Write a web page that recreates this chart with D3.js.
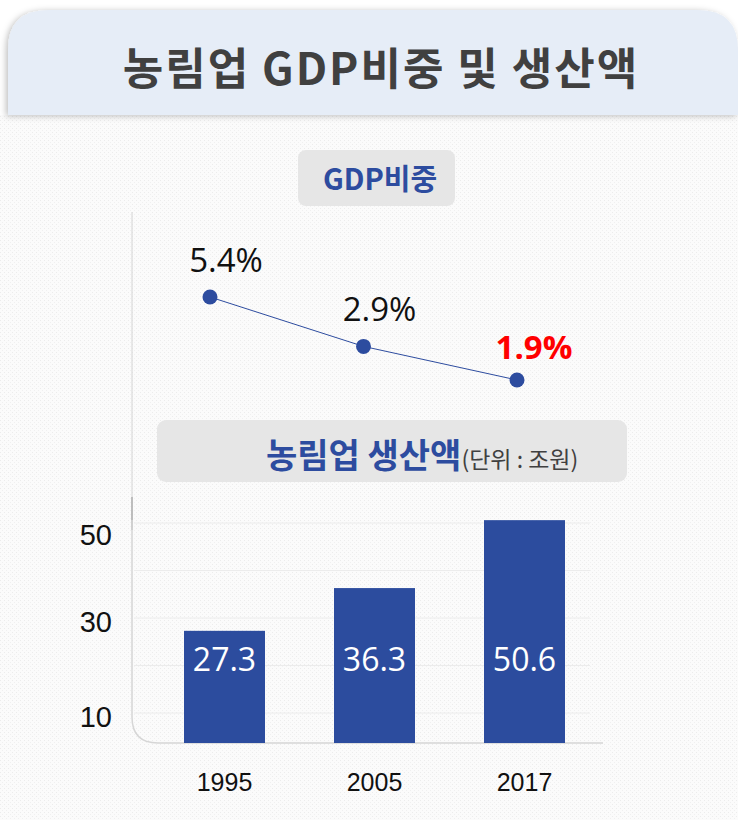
<!DOCTYPE html>
<html>
<head>
<meta charset="utf-8">
<script src="https://cdn.jsdelivr.net/npm/d3@7"></script>
<style>
  html, body { margin: 0; padding: 0; background: #fff; }
  svg { display: block; }
</style>
</head>
<body>
<div id="chart"></div>
<script>
// chart values
const years = ["1995", "2005", "2017"];
const gdpShare = [5.4, 2.9, 1.9];          // % of GDP
const production = [27.3, 36.3, 50.6];     // 조원
const yTicks = [10, 30, 50];

const W = 738, H = 820;
const KR = "'Noto Sans CJK KR', 'Noto Sans', sans-serif";

const svg = d3.select("#chart").append("svg")
    .attr("width", W)
    .attr("height", H);

const defs = svg.append("defs");

// light dotted texture for the body
const pat = defs.append("pattern")
    .attr("id", "dots")
    .attr("width", 4).attr("height", 4)
    .attr("patternUnits", "userSpaceOnUse");
pat.append("rect").attr("width", 4).attr("height", 4).attr("fill", "#fbfbfb");
pat.append("rect").attr("width", 1).attr("height", 1).attr("fill", "#ececec");
pat.append("rect").attr("x", 2).attr("y", 2).attr("width", 1).attr("height", 1).attr("fill", "#f0f0f0");

const shadow = defs.append("filter").attr("id", "shadow")
    .attr("x", "-5%").attr("y", "-10%").attr("width", "110%").attr("height", "130%");
shadow.append("feDropShadow")
    .attr("dx", -2).attr("dy", 1).attr("stdDeviation", 3)
    .attr("flood-color", "#000").attr("flood-opacity", 0.25);

svg.append("rect").attr("x", 0).attr("y", 115).attr("width", W).attr("height", H - 115)
    .attr("fill", "url(#dots)");

// header panel
svg.append("path")
    .attr("d", "M8,115 L8,50 Q8,10 48,10 L698,10 Q738,10 738,50 L738,115 Z")
    .attr("fill", "#e6edf7")
    .attr("filter", "url(#shadow)");

svg.append("text")
    .attr("x", 381).attr("y", 85)
    .attr("text-anchor", "middle")
    .attr("font-family", KR)
    .attr("font-weight", 700)
    .attr("font-size", 44)
    .attr("letter-spacing", 2)
    .attr("fill", "#404040")
    .text("농림업 GDP비중 및 생산액");

// ---- GDP share line ----
const xLine = d3.scalePoint().domain(years).range([210, 517]);
const yLine = d3.scaleLog().domain([1.9, 5.4]).range([380, 297]);

svg.append("rect")
    .attr("x", 298).attr("y", 150).attr("width", 157).attr("height", 56).attr("rx", 8)
    .attr("fill", "#e6e6e6");
svg.append("text")
    .attr("x", 380).attr("y", 190)
    .attr("text-anchor", "middle")
    .attr("font-family", KR).attr("font-weight", 700).attr("font-size", 29)
    .attr("fill", "#2d4c9f")
    .text("GDP비중");

// axis line on the left
svg.append("line")
    .attr("x1", 132).attr("x2", 132).attr("y1", 212).attr("y2", 530)
    .attr("stroke", "#d4d4d4").attr("stroke-width", 1);
svg.append("line")
    .attr("x1", 132).attr("x2", 132).attr("y1", 497).attr("y2", 530)
    .attr("stroke", "#bdbdbd").attr("stroke-width", 2);

const pts = years.map((y, i) => ({ year: y, v: gdpShare[i] }));

svg.append("path")
    .datum(pts)
    .attr("d", d3.line().x(d => xLine(d.year)).y(d => yLine(d.v)))
    .attr("fill", "none")
    .attr("stroke", "#2d4c9f")
    .attr("stroke-width", 1);

svg.selectAll(".dot")
    .data(pts)
    .enter().append("circle")
    .attr("class", "dot")
    .attr("cx", d => xLine(d.year))
    .attr("cy", d => yLine(d.v))
    .attr("r", 7.5)
    .attr("fill", "#2d4c9f");

svg.selectAll(".pct")
    .data(pts)
    .enter().append("text")
    .attr("class", "pct")
    .attr("x", (d, i) => xLine(d.year) + (i === 2 ? 17 : 16))
    .attr("y", (d, i) => yLine(d.v) - (i === 2 ? 21 : 25))
    .attr("text-anchor", "middle")
    .attr("font-family", "'Open Sans', sans-serif")
    .attr("font-size", (d, i) => i === 2 ? 33 : 33)
    .attr("font-weight", (d, i) => i === 2 ? 700 : 400)
    .attr("fill", (d, i) => i === 2 ? "#ff0000" : "#111")
    .text(d => d.v.toFixed(1) + "%");

// ---- production bars ----
svg.append("rect")
    .attr("x", 157).attr("y", 420).attr("width", 470).attr("height", 62).attr("rx", 9)
    .attr("fill", "#e6e6e6");
const t2 = svg.append("text")
    .attr("x", 266).attr("y", 468)
    .attr("font-family", KR);
t2.append("tspan")
    .attr("font-weight", 700).attr("font-size", 34).attr("fill", "#2d4c9f")
    .text("농림업 생산액");
t2.append("tspan")
    .attr("font-size", 23).attr("fill", "#404040")
    .text("(단위 : 조원)");

const xBar = d3.scaleBand().domain(years).range([149.5, 599.5]).paddingInner(0.46).paddingOuter(0.23);
const yBar = d3.scaleLinear().domain([10, 50]).range([713, 523]);
const base = 743;

// gridlines
svg.selectAll(".grid")
    .data(d3.range(10, 51, 10))
    .enter().append("line")
    .attr("class", "grid")
    .attr("x1", 134).attr("x2", 590)
    .attr("y1", d => yBar(d)).attr("y2", d => yBar(d))
    .attr("stroke", "#ececec").attr("stroke-width", 1);

// frame: left line curving into the baseline
svg.append("path")
    .attr("d", `M132,520 L132,${base - 26} Q132,${base} 158,${base} L603,${base}`)
    .attr("fill", "none")
    .attr("stroke", "#d6d6d6")
    .attr("stroke-width", 1.5);

const bars = years.map((y, i) => ({ year: y, v: production[i] }));

svg.selectAll(".bar")
    .data(bars)
    .enter().append("rect")
    .attr("class", "bar")
    .attr("x", d => xBar(d.year))
    .attr("width", xBar.bandwidth())
    .attr("y", d => yBar(d.v))
    .attr("height", d => base - yBar(d.v))
    .attr("fill", "#2c4c9e");

svg.selectAll(".barlab")
    .data(bars)
    .enter().append("text")
    .attr("class", "barlab")
    .attr("x", d => xBar(d.year) + xBar.bandwidth() / 2)
    .attr("y", 671)
    .attr("text-anchor", "middle")
    .attr("font-family", "'Open Sans', sans-serif")
    .attr("font-size", 32)
    .attr("fill", "#fff")
    .text(d => d.v.toFixed(1));

// y tick labels
svg.selectAll(".ytick")
    .data(yTicks)
    .enter().append("text")
    .attr("class", "ytick")
    .attr("x", 112)
    .attr("y", d => yBar(d) + (d === 50 ? 22 : 14))
    .attr("text-anchor", "end")
    .attr("font-family", "'Liberation Sans', Arial, sans-serif")
    .attr("font-size", 29)
    .attr("fill", "#111")
    .text(d => d);

// x labels
svg.selectAll(".xlab")
    .data(years)
    .enter().append("text")
    .attr("class", "xlab")
    .attr("x", d => xBar(d) + xBar.bandwidth() / 2)
    .attr("y", 791)
    .attr("text-anchor", "middle")
    .attr("font-family", "'Liberation Sans', Arial, sans-serif")
    .attr("font-size", 25)
    .attr("fill", "#111")
    .text(d => d);
</script>
</body>
</html>
